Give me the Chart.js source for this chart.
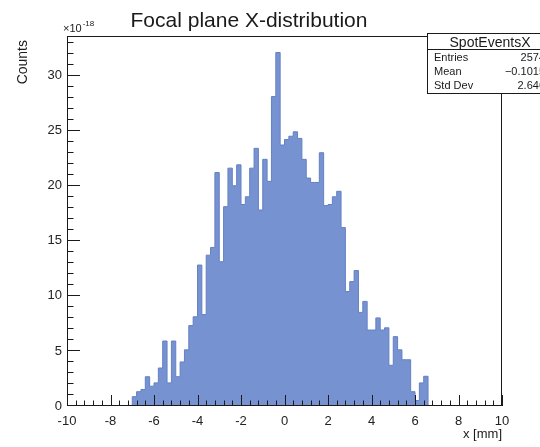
<!DOCTYPE html>
<html>
<head>
<meta charset="utf-8">
<script src="https://cdn.jsdelivr.net/npm/chart.js@4.4.0/dist/chart.umd.min.js"></script>
<style>
  html, body { margin: 0; padding: 0; background: #ffffff; }
  canvas { display: block; }
</style>
</head>
<body>
<canvas id="c" width="540" height="447"></canvas>
<script>
// Histogram definition: 100 bins over [-10, 10] mm
const histTitle = 'Focal plane X-distribution';
const xAxisTitle = 'x [mm]';
const yAxisTitle = 'Counts';
const yExponent = '-18';
const xMin = -10, xMax = 10, nBins = 100;

// Bin contents (units of 1e-18)
const counts = [
  0, 0, 0, 0, 0, 0, 0, 0, 0, 0,
  0, 0, 0, 0, 0,
  0.85, 1.3, 1.5, 2.66, 1.8, 2.1, 3.45, 5.9, 2.1, 5.9,
  2.66, 4.0, 5.1, 7.3, 8.1, 12.8, 8.3, 13.7, 14.4, 21.2,
  13.1, 18.1, 21.6, 20.0, 21.9, 18.3, 19.0, 21.6, 23.4, 17.8,
  22.4, 20.4, 28.1, 32.1, 23.7, 24.2, 24.5, 24.9, 24.3, 22.4,
  20.7, 20.3, 20.3, 23.0, 18.2, 18.3, 19.0, 19.5, 16.2, 10.4,
  11.3, 12.3, 8.5, 9.5, 6.9, 6.9, 8.0, 6.9, 7.1, 3.7,
  6.3, 5.1, 4.2, 4.2, 1.3, 0.5, 2.1, 2.7,
  0, 0, 0, 0, 0, 0, 0, 0, 0, 0,
  0, 0, 0, 0, 0, 0, 0
];

const xTickValues = [-10, -8, -6, -4, -2, 0, 2, 4, 6, 8, 10];
const yTickValues = [0, 5, 10, 15, 20, 25, 30];
const xMinorStep = 0.4;
const yMinorStep = 1;
const yMax = 33.6;

// Statistics box
const statTitle = 'SpotEventsX';
const statNames = ['Entries', 'Mean', 'Std Dev'];
const statValues = ['2574', '\u22120.1015', '2.646'];

// Step outline: each point sits on a bin's low edge and holds its value to the next edge
const binWidth = (xMax - xMin) / nBins;
const stepPoints = counts.map((c, i) => ({ x: xMin + i * binWidth, y: c }));
stepPoints.push({ x: xMax, y: counts[nBins - 1] });

const FONT = '"Liberation Sans", Arial, Helvetica, sans-serif';
const INK = '#1a1a1a';

const rootStyle = {
  id: 'rootStyle',
  afterDatasetsDraw(chart) {
    const ctx = chart.ctx;
    const { left, right, top, bottom } = chart.chartArea;
    const xs = chart.scales.x, ys = chart.scales.y;
    ctx.save();
    ctx.strokeStyle = INK;
    ctx.lineWidth = 1;
    // frame
    ctx.strokeRect(Math.round(left) + 0.5, Math.round(top) + 0.5,
                   Math.round(right - left) - 1, Math.round(bottom - top) - 1);
    ctx.beginPath();
    // y ticks (inside the frame)
    for (let v = 0; v <= yMax + 1e-9; v += yMinorStep) {
      const py = Math.round(ys.getPixelForValue(v)) - 0.5;
      const major = yTickValues.includes(Math.round(v));
      const len = major ? 13 : 6.5;
      ctx.moveTo(left, py);
      ctx.lineTo(left + len, py);
    }
    // x ticks (inside the frame)
    for (let i = 0; xMin + i * xMinorStep <= xMax + 1e-9; i++) {
      const v = xMin + i * xMinorStep;
      const px = Math.round(xs.getPixelForValue(v)) + 0.5;
      const major = xTickValues.some(t => Math.abs(t - v) < 1e-6);
      const len = major ? 11 : 5.5;
      ctx.moveTo(px, bottom);
      ctx.lineTo(px, bottom - len);
    }
    ctx.stroke();
    ctx.restore();
  },
  afterDraw(chart) {
    const ctx = chart.ctx;
    const { left, right, top, bottom } = chart.chartArea;
    ctx.save();
    ctx.fillStyle = INK;

    // title
    ctx.font = '21px ' + FONT;
    ctx.textAlign = 'center';
    ctx.textBaseline = 'alphabetic';
    ctx.fillText(histTitle, 249, 27);

    // exponent marker above the y axis
    ctx.textAlign = 'left';
    ctx.font = '11px ' + FONT;
    ctx.fillText('\u00d710', 63, 32);
    const w = ctx.measureText('\u00d710').width;
    ctx.font = '8px ' + FONT;
    ctx.fillText(yExponent, 63 + w + 1, 26);

    // y axis title, aligned to the top end
    ctx.save();
    ctx.font = '14px ' + FONT;
    ctx.translate(27, top + 4);
    ctx.rotate(-Math.PI / 2);
    ctx.textAlign = 'right';
    ctx.fillText(yAxisTitle, 0, 0);
    ctx.restore();

    // x axis title, aligned to the right end
    ctx.font = '13px ' + FONT;
    ctx.textAlign = 'right';
    ctx.fillText(xAxisTitle, right, 438);

    // statistics box
    const bx = 427.5, by = Math.round(top) - 2.5, bw = 140, hdr = 16, rowH = 14;
    const bh = hdr + rowH * statNames.length + 2;
    ctx.fillStyle = '#ffffff';
    ctx.fillRect(bx, by, bw, bh);
    ctx.strokeStyle = INK;
    ctx.lineWidth = 1;
    ctx.strokeRect(bx, by, bw, Math.round(bh));
    ctx.beginPath();
    ctx.moveTo(bx, by + hdr);
    ctx.lineTo(bx + bw, by + hdr);
    ctx.stroke();
    ctx.fillStyle = INK;
    ctx.font = '14px ' + FONT;
    ctx.textAlign = 'center';
    ctx.fillText(statTitle, 490, by + 13);
    ctx.font = '11px ' + FONT;
    statNames.forEach((name, i) => {
      const y = by + hdr + rowH * (i + 1) - 3;
      ctx.textAlign = 'left';
      ctx.fillText(name, 434, y);
      ctx.textAlign = 'right';
      ctx.fillText(statValues[i], 545, y);
    });
    ctx.restore();
  }
};

new Chart(document.getElementById('c'), {
  type: 'line',
  data: {
    datasets: [{
      data: stepPoints,
      stepped: 'before',
      fill: 'origin',
      backgroundColor: '#7692d0',
      borderColor: '#6580c3',
      borderWidth: 1,
      pointRadius: 0,
      tension: 0
    }]
  },
  options: {
    responsive: false,
    animation: false,
    events: [],
    layout: { padding: { top: 36, right: 38, bottom: 0, left: 0 } },
    plugins: { legend: { display: false }, tooltip: { enabled: false }, title: { display: false } },
    scales: {
      x: {
        type: 'linear',
        min: xMin,
        max: xMax,
        grid: { display: false, drawTicks: false, tickLength: 0 },
        border: { display: false },
        afterBuildTicks: s => { s.ticks = xTickValues.map(v => ({ value: v })); },
        afterFit: s => { s.height = 41; },
        ticks: {
          padding: 8,
          maxRotation: 0,
          autoSkip: false,
          color: '#222',
          font: { family: FONT, size: 13 },
          callback: v => String(v)
        }
      },
      y: {
        min: 0,
        max: yMax,
        grid: { display: false, drawTicks: false, tickLength: 0 },
        border: { display: false },
        afterBuildTicks: s => { s.ticks = yTickValues.map(v => ({ value: v })); },
        afterFit: s => { s.width = 67; },
        ticks: {
          padding: 5,
          color: '#222',
          font: { family: FONT, size: 13 },
          callback: v => String(v)
        }
      }
    }
  },
  plugins: [rootStyle]
});
</script>
</body>
</html>
